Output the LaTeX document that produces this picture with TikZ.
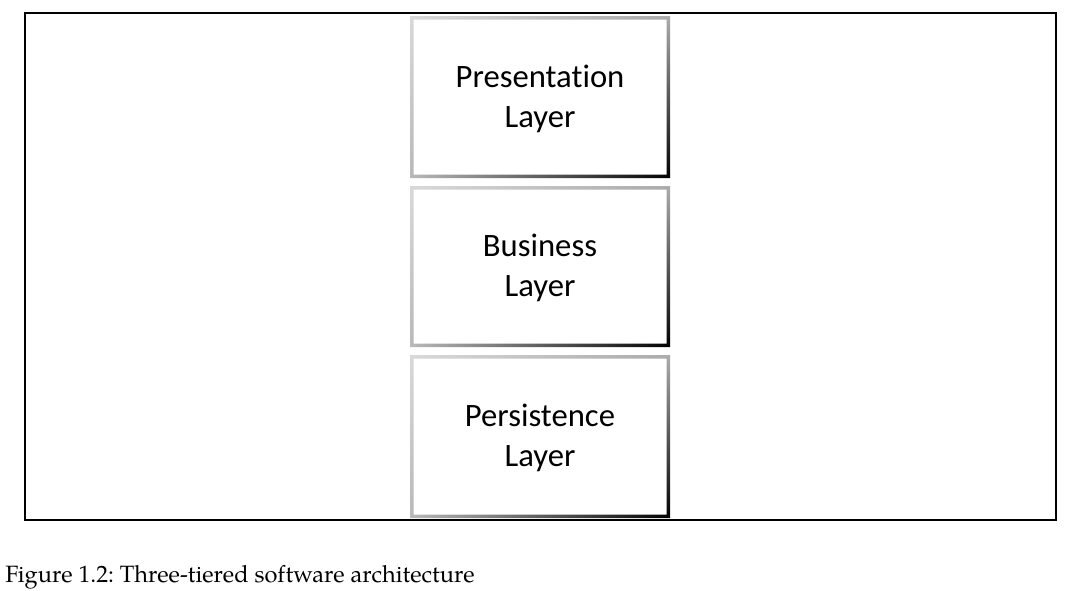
\documentclass[tikz,border=0pt]{standalone}
\usepackage{fontspec}
\usepackage{tikz}
\usetikzlibrary{shadings}
\newfontfamily\boxfont{Carlito}[RawFeature={-liga,-calt,-dlig}]
\newfontfamily\capfont{TeX Gyre Pagella}

\begin{document}
\begin{tikzpicture}[x=0.75pt,y=-0.75pt,
    layer/.style={align=center,font=\boxfont\fontsize{24.5}{30}\selectfont},
    rim/.style={even odd rule,upper left=gray!30,upper right=gray!65,lower left=gray!55,lower right=black}]
    \useasboundingbox (0,0) rectangle (1067,590);
    \draw[line width=0.9pt] (25,13) --(1056,13) --(1056,520) --(25,520) --cycle;
    \def\firstbox{(410,16) rectangle (670,178) (413.5,19.5) rectangle (666.5,174.5)}
    \def\secondbox{(410,186) rectangle (670,347) (413.5,189.5) rectangle (666.5,343.5)}
    \def\thirdbox{(410,355) rectangle (670,518) (413.5,358.5) rectangle (666.5,514.5)}

    \shade [rim] \firstbox;
    \shade [rim] \secondbox;
    \shade [rim] \thirdbox;
    \node [layer] (presentation) at (540,99) {Presentation\\Layer};
    \node [layer] (business) at (540,268) {Business\\Layer};
    \node [layer] (persistence) at (540,438) {Persistence\\Layer};
    \node [anchor=base west,font=\capfont\fontsize{17.7}{22}\selectfont\frenchspacing,inner sep=0pt] (caption) at (5,582) {Figure 1.2: Three-tiered software architecture};
\end{tikzpicture}
\end{document}
